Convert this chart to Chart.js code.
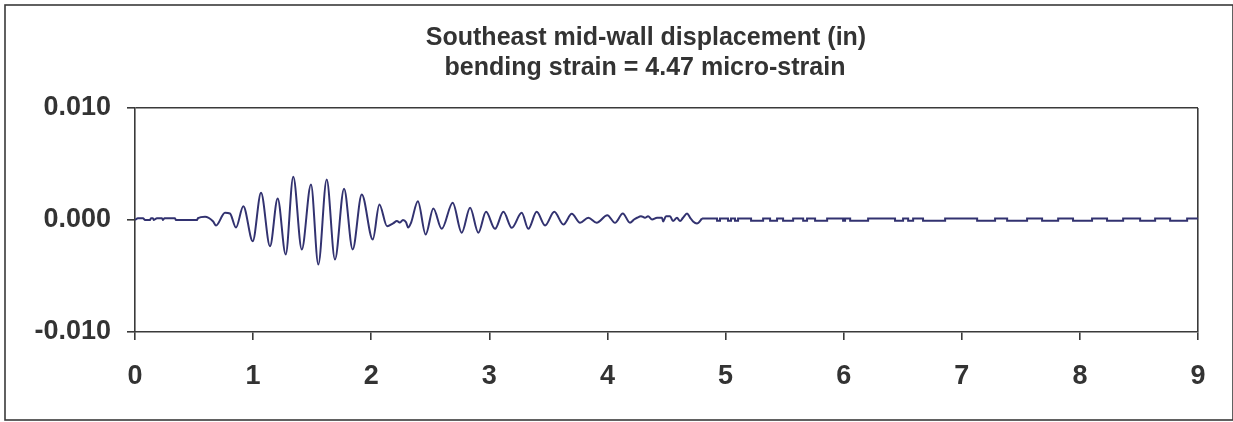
<!DOCTYPE html>
<html>
<head>
<meta charset="utf-8">
<script src="https://cdn.jsdelivr.net/npm/chart.js@4/dist/chart.umd.min.js"></script>
<style>
html,body{margin:0;padding:0;background:#fff;}
#wrap{position:absolute;left:0;top:0;width:1233px;height:422px;}
</style>
</head>
<body>
<div id="wrap"><canvas id="c" width="1233" height="422"></canvas></div>
<script>
// Title lines
const titleLines = ["Southeast mid-wall displacement (in)", "bending strain = 4.47 micro-strain"];

// Axis ticks
const xTickValues = [0, 1, 2, 3, 4, 5, 6, 7, 8, 9];
const yTickValues = [-0.010, 0.000, 0.010];

// Oscillating part: time (s) and displacement (in)
const oscTimes = [
  0, 0.025, 0.068, 0.085, 0.127, 0.135, 0.152, 0.160, 0.186, 0.229, 0.237, 0.250, 0.339, 0.345,
  0.525, 0.533, 0.593, 0.660, 0.686, 0.762, 0.804, 0.855, 0.917, 0.997,
  1.067, 1.143, 1.208, 1.276, 1.340, 1.412, 1.490, 1.552, 1.623, 1.693, 1.770, 1.843, 1.920,
  2.013, 2.069, 2.134, 2.185, 2.218, 2.244, 2.269, 2.295, 2.312, 2.337, 2.395, 2.461, 2.526,
  2.597, 2.690, 2.766, 2.837, 2.907, 2.972, 3.048, 3.119, 3.190, 3.274, 3.330, 3.401, 3.472,
  3.550, 3.627, 3.698, 3.768, 3.838, 3.909, 3.999, 4.064, 4.130, 4.191, 4.225, 4.251, 4.284,
  4.318, 4.344, 4.378, 4.420, 4.462, 4.471, 4.496, 4.530, 4.555, 4.589, 4.615, 4.640, 4.674,
  4.699, 4.725, 4.758, 4.801
];
const oscValues = [
  0, 0.00016, 0.00016, 0, 0, 0.00016, 0.00016, 0, 0.00016, 0.00016, 0, 0.00016, 0.00016, 0,
  0, 0.00016, 0.00029, -0.00011, -0.00049, 0.00064, 0.00058, -0.00067, 0.00123, -0.00189,
  0.00243, -0.00234, 0.00192, -0.00308, 0.00386, -0.00263, 0.00317, -0.00397, 0.00362, -0.00353, 0.00280, -0.00263, 0.00228,
  -0.00174, 0.00138, -0.00055, -0.00030, -0.00010, -0.00022, 0.00000, -0.00020, -0.00067, -0.00025, 0.00168, -0.00129, 0.00103,
  -0.00079, 0.00154, -0.00114, 0.00109, -0.00114, 0.00073, -0.00079, 0.00073, -0.00070, 0.00064, -0.00079, 0.00073, -0.00049,
  0.00073, -0.00040, 0.00055, -0.00025, 0.00020, -0.00025, 0.00043, -0.00025, 0.00058, -0.00025, 0.00004, 0.00020, 0.00034,
  0.00020, 0.00034, 0.00004, 0.00020, 0.00020, -0.00013, 0.00034, 0.00034, -0.00010, 0.00020, -0.00010, 0.00020, 0.00058,
  0.00022, -0.00013, -0.00031, 0.00013
];

// Quiet stepped tail: each value holds from its time to the next
const tailTimes = [
  4.801, 4.928, 4.953, 5.021, 5.046, 5.080, 5.106, 5.216, 5.318, 5.377, 5.436, 5.487, 5.572, 5.657,
  5.690, 5.758, 5.860, 5.995, 6.012, 6.055, 6.207, 6.435, 6.503, 6.546, 6.588, 6.672, 6.859, 7.130,
  7.282, 7.384, 7.553, 7.680, 7.816, 7.942, 8.103, 8.230, 8.366, 8.510, 8.637, 8.764, 8.908, 9.0
];
const tailValues = [
  0.00013, -0.00007, 0.00013, -0.00007, 0.00013, -0.00007, 0.00013, -0.00007, 0.00013, -0.00007, 0.00013, -0.00007, 0.00013, -0.00007,
  0.00013, -0.00007, 0.00013, -0.00007, 0.00013, -0.00007, 0.00013, -0.00007, 0.00013, -0.00007, 0.00013, -0.00007, 0.00013, -0.00007,
  0.00013, -0.00007, 0.00013, -0.00007, 0.00013, -0.00007, 0.00013, -0.00007, 0.00013, -0.00007, 0.00013, -0.00007, 0.00013, 0.00013
];

const LINE = '#323270';
const DARK = '#3a3a3a';
const FONT = '"Liberation Sans", Arial, sans-serif';

const frame = {
  id: 'frame',
  beforeDraw(chart) {
    const ctx = chart.ctx;
    ctx.save();
    ctx.fillStyle = '#fff';
    ctx.fillRect(0, 0, chart.width, chart.height);
    ctx.strokeStyle = DARK;
    ctx.lineWidth = 1.6;
    ctx.strokeRect(5, 5, 1228, 415);
    ctx.restore();
  },
  afterDraw(chart) {
    const ctx = chart.ctx;
    ctx.save();
    ctx.fillStyle = '#333';
    ctx.font = 'bold 25px ' + FONT;
    ctx.textAlign = 'center';
    ctx.textBaseline = 'middle';
    ctx.fillText(titleLines[0], 646, 38);
    ctx.fillText(titleLines[1], 645, 68);
    ctx.restore();
  }
};

new Chart(document.getElementById('c'), {
  type: 'line',
  data: {
    datasets: [
      {
        data: oscTimes.map((t, i) => ({x: t, y: oscValues[i]})),
        borderColor: LINE, borderWidth: 2, pointRadius: 0,
        cubicInterpolationMode: 'monotone', fill: false
      },
      {
        data: tailTimes.map((t, i) => ({x: t, y: tailValues[i]})),
        borderColor: LINE, borderWidth: 2, pointRadius: 0,
        stepped: 'before', fill: false
      }
    ]
  },
  options: {
    responsive: false,
    animation: false,
    layout: {padding: {top: 108, right: 35, left: 0, bottom: 0}},
    plugins: {legend: {display: false}, tooltip: {enabled: false}, title: {display: false}},
    scales: {
      x: {
        type: 'linear', min: 0, max: 9,
        afterBuildTicks(s) { s.ticks = xTickValues.map(v => ({value: v})); },
        afterFit(s) { s.height = 90; },
        border: {color: DARK, width: 1.6},
        grid: {
          drawOnChartArea: true, tickLength: 8, tickColor: DARK, tickWidth: 1.6, lineWidth: 1.6,
          color: c => (c.tick && c.tick.value === 9) ? DARK : 'rgba(0,0,0,0)'
        },
        ticks: {color: '#333', font: {family: FONT, size: 27, weight: 'bold'}, padding: 20, maxRotation: 0,
          callback: v => String(v)}
      },
      y: {
        type: 'linear', min: -0.01, max: 0.01,
        afterBuildTicks(s) { s.ticks = yTickValues.map(v => ({value: v})); },
        afterFit(s) { s.width = 135; },
        border: {color: DARK, width: 1.6},
        grid: {
          drawOnChartArea: true, tickLength: 8, tickColor: DARK, tickWidth: 1.6, lineWidth: 1.6,
          color: c => (c.tick && c.tick.value === 0.01) ? DARK : 'rgba(0,0,0,0)'
        },
        ticks: {color: '#333', font: {family: FONT, size: 27, weight: 'bold'}, padding: 16,
          callback: v => Number(v).toFixed(3)}
      }
    }
  },
  plugins: [frame]
});
</script>
</body>
</html>
